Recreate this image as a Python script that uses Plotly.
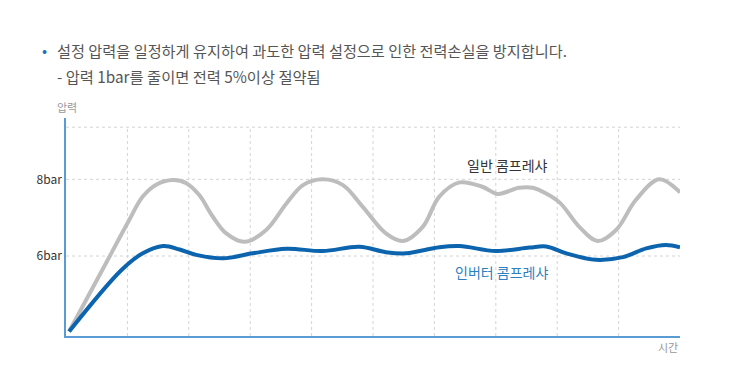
import plotly.graph_objects as go

# ---- data ----
time_gen = [0.05, 0.60, 1.01, 1.25, 1.47, 1.74, 1.96, 2.17, 2.39, 2.61, 2.91, 3.26, 3.59, 3.86, 4.18,
            4.51, 4.83, 5.21, 5.49, 5.81, 6.08, 6.41, 6.79, 7.03, 7.38, 7.60, 7.82, 8.05, 8.36, 8.66,
            8.96, 9.28, 9.66, 10.0]
pres_gen = [4.03, 5.66, 6.88, 7.55, 7.86, 7.98, 7.90, 7.59, 7.03, 6.59, 6.37, 6.68, 7.37, 7.85, 8.00,
            7.85, 7.29, 6.59, 6.39, 6.76, 7.55, 7.92, 7.80, 7.62, 7.78, 7.78, 7.63, 7.38, 6.76, 6.39,
            6.68, 7.46, 8.00, 7.66]

time_inv = [0.05, 0.90, 1.25, 1.58, 1.85, 2.12, 2.56, 3.04, 3.59, 4.18, 4.78, 5.21, 5.54, 6.08, 6.41,
            7.00, 7.55, 7.82, 8.15, 8.63, 9.07, 9.45, 9.77, 10.0]
pres_inv = [4.03, 5.63, 6.07, 6.26, 6.17, 6.03, 5.94, 6.07, 6.19, 6.13, 6.24, 6.10, 6.07, 6.23, 6.26,
            6.13, 6.22, 6.25, 6.07, 5.90, 5.97, 6.20, 6.29, 6.23]

y_ticks = [6, 8]
y_tick_labels = ["6bar", "8bar"]
y_grid_top = 9.36
x_grid = [1, 2, 3, 4, 5, 6, 7, 8, 9]
x_range = [0, 10]
y_range = [3.914, 9.6]

title_line1 = "설정 압력을 일정하게 유지하여 과도한 압력 설정으로 인한 전력손실을 방지합니다."
title_line2 = "- 압력 1bar를 줄이면 전력 5%이상 절약됨"
label_gen = "일반 콤프레샤"
label_inv = "인버터 콤프레샤"
y_title = "압력"
x_title = "시간"

FONT = "Noto Sans CJK KR"
BLUE = "#0b64ad"
GRAY = "#bdbdbd"
AXIS = "#5a9bd6"
GRID = "#d4d4d4"

fig = go.Figure()

# grid lines
shapes = []
for gx in x_grid:
    shapes.append(dict(type="line", xref="x", yref="y", x0=gx, x1=gx, y0=y_range[0], y1=y_grid_top,
                       line=dict(color=GRID, width=1, dash="dot"), layer="below"))
for gy in y_ticks + [y_grid_top]:
    shapes.append(dict(type="line", xref="x", yref="y", x0=x_range[0], x1=x_range[1], y0=gy, y1=gy,
                       line=dict(color=GRID, width=1, dash="dot"), layer="below"))

fig.add_trace(go.Scatter(x=time_gen, y=pres_gen, mode="lines",
                         line=dict(color=GRAY, width=4, shape="spline", smoothing=1.0),
                         hoverinfo="skip", showlegend=False))
fig.add_trace(go.Scatter(x=time_inv, y=pres_inv, mode="lines",
                         line=dict(color=BLUE, width=4, shape="spline", smoothing=1.0),
                         hoverinfo="skip", showlegend=False))

annotations = [
    dict(xref="paper", yref="paper", x=-0.0358, y=1.312, text="•", showarrow=False,
         xanchor="center", yanchor="middle", font=dict(family=FONT, size=15, color="#1f6fc0")),
    dict(xref="paper", yref="paper", x=-0.0179, y=1.312, text=title_line1, showarrow=False,
         xanchor="left", yanchor="middle", font=dict(family=FONT, size=15.2, color="#555555")),
    dict(xref="paper", yref="paper", x=-0.0179, y=1.193, text=title_line2, showarrow=False,
         xanchor="left", yanchor="middle", font=dict(family=FONT, size=15.3, color="#555555")),
    dict(xref="paper", yref="paper", x=0.0016, y=1.050, text=y_title, showarrow=False,
         xanchor="center", yanchor="middle", font=dict(family=FONT, size=11, color="#999999")),
    dict(xref="paper", yref="paper", x=0.980, y=-0.0505, text=x_title, showarrow=False,
         xanchor="center", yanchor="middle", font=dict(family=FONT, size=11, color="#999999")),
    dict(xref="x", yref="y", x=7.19, y=8.37, text=label_gen, showarrow=False,
         xanchor="center", yanchor="middle", font=dict(family=FONT, size=14, color="#333333")),
    dict(xref="x", yref="y", x=7.1, y=5.59, text=label_inv, showarrow=False,
         xanchor="center", yanchor="middle", font=dict(family=FONT, size=14, color="#2b7fc3")),
]

# page body has an 8px margin: shrink figure so the plot sits where the reference has it
fig.update_layout(
    width=714, height=367,
    margin=dict(l=58, r=42, t=110, b=39),
    paper_bgcolor="white", plot_bgcolor="white",
    shapes=shapes, annotations=annotations,
    xaxis=dict(range=x_range, showgrid=False, zeroline=False, showticklabels=False,
               showline=True, linecolor=AXIS, linewidth=1.5, ticks="", fixedrange=True),
    yaxis=dict(range=y_range, showgrid=False, zeroline=False, tickvals=y_ticks, ticktext=y_tick_labels,
               tickfont=dict(family=FONT, size=12, color="#333333"), ticks="",
               showline=True, linecolor=AXIS, linewidth=1.5, fixedrange=True),
)

fig.write_html("out.html")
